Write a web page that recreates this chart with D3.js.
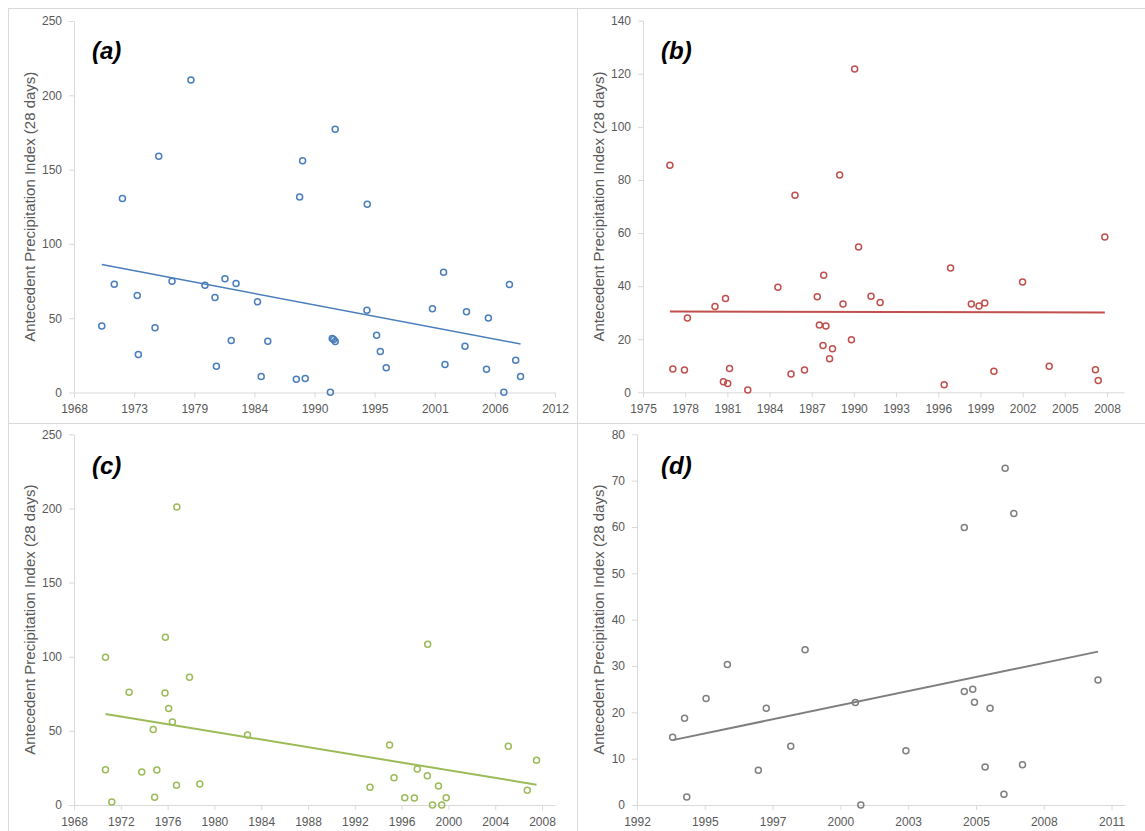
<!DOCTYPE html>
<html>
<head>
<meta charset="utf-8">
<script src="https://cdn.jsdelivr.net/npm/d3@7"></script>
<style>
  body { margin: 0; background: #fff; }
  svg { display: block; font-family: "Liberation Sans", Arial, sans-serif; }
</style>
</head>
<body>
<svg id="chart" width="1145" height="831"></svg>
<script>
/* Data (decimal years, index values) */
const aYears = [1970.98, 1972.12, 1972.86, 1974.21, 1974.31, 1975.83, 1976.17, 1977.38, 1979.1, 1980.38,
  1981.29, 1981.42, 1982.2, 1982.77, 1983.21, 1985.16, 1985.5, 1986.1, 1988.7, 1989.0,
  1989.27, 1989.51, 1991.8, 1991.97, 1992.1, 1992.24, 1992.24, 1995.13, 1995.16, 1996.01,
  1996.35, 1996.89, 2001.1, 2002.11, 2002.24, 2004.06, 2004.2, 2006.02, 2006.19, 2007.6,
  2008.11, 2008.68, 2009.12];
const aValues = [44.8, 72.9, 130.5, 65.2, 25.6, 43.5, 159.0, 74.9, 210.3, 72.2,
  63.9, 17.7, 76.5, 35.0, 73.3, 61.0, 10.8, 34.5, 9.0, 131.6,
  156.0, 9.4, 0.2, 36.3, 35.6, 34.3, 177.1, 55.4, 126.7, 38.6,
  27.6, 16.6, 56.3, 80.9, 18.8, 31.2, 54.3, 15.7, 50.2, 0.2,
  72.6, 21.7, 10.8];
const aTrend = [86.1, 32.7];

const bYears = [1977.21, 1977.42, 1978.25, 1978.46, 1980.43, 1981.03, 1981.18, 1981.34, 1981.47, 1982.77,
  1984.92, 1985.86, 1986.14, 1986.82, 1987.73, 1987.88, 1988.14, 1988.19, 1988.35, 1988.61,
  1988.82, 1989.33, 1989.57, 1990.17, 1990.4, 1990.68, 1991.57, 1992.22, 1996.79, 1997.25,
  1998.73, 1999.28, 1999.69, 2000.34, 2002.39, 2004.29, 2007.59, 2007.79, 2008.26];
const bValues = [85.5, 8.8, 8.4, 28.0, 32.3, 4.0, 35.3, 3.3, 9.0, 0.9,
  39.6, 6.9, 74.2, 8.4, 36.0, 25.4, 17.6, 44.1, 25.0, 12.6,
  16.4, 81.9, 33.3, 19.8, 121.8, 54.7, 36.2, 33.8, 2.8, 46.8,
  33.3, 32.5, 33.6, 7.9, 41.6, 9.8, 8.5, 4.4, 58.5];
const bTrend = [30.4, 30.1];

const cYears = [1970.99, 1970.99, 1971.53, 1973.01, 1974.09, 1975.07, 1975.19, 1975.38, 1976.08, 1976.11,
  1976.39, 1976.71, 1977.06, 1977.09, 1978.17, 1979.05, 1983.13, 1993.6, 1995.27, 1995.65,
  1996.57, 1997.39, 1997.64, 1998.5, 1998.53, 1998.94, 1999.45, 1999.73, 2000.11, 2005.42,
  2007.04, 2007.83];
const cValues = [99.6, 23.8, 2.0, 76.0, 22.3, 51.0, 5.2, 23.6, 75.5, 113.1,
  65.0, 56.0, 13.3, 201.0, 86.1, 14.2, 47.2, 11.9, 40.5, 18.4,
  4.9, 4.7, 24.3, 19.8, 108.4, 0, 12.8, 0, 4.9, 39.6,
  9.9, 30.1];
const cTrend = [61.4, 13.7];

const dYears = [1993.72, 1994.2, 1994.29, 1995.07, 1995.93, 1997.18, 1997.5, 1998.49, 1999.07, 2001.1,
  2001.32, 2003.14, 2005.5, 2005.5, 2005.84, 2005.91, 2006.34, 2006.54, 2007.1, 2007.15,
  2007.5, 2007.85, 2010.9];
const dValues = [14.6, 18.7, 1.7, 23.0, 30.3, 7.5, 20.9, 12.7, 33.5, 22.1,
  0, 11.7, 59.9, 24.5, 25.0, 22.2, 8.2, 20.9, 2.3, 72.7,
  62.9, 8.7, 27.0];
const dTrend = [14.0, 33.1];

/* Tick labels (Excel date axis, equal day steps) */
const aTickLabels = ["1968", "1973", "1979", "1984", "1990", "1995", "2001", "2006", "2012"];
const bTickLabels = ["1975", "1978", "1981", "1984", "1987", "1990", "1993", "1996", "1999", "2002", "2005", "2008"];
const cTickLabels = ["1968", "1972", "1976", "1980", "1984", "1988", "1992", "1996", "2000", "2004", "2008"];
const dTickLabels = ["1992", "1995", "1997", "2000", "2003", "2005", "2008", "2011"];

const yTitle = "Antecedent Precipitation Index (28 days)";

/* Layout of the four panels */
const panels = [
  { tag: "(a)", years: aYears, values: aValues, trend: aTrend, ticks: aTickLabels,
    color: "#4a7ebb", trendWidth: 1.5,
    frame: [8, 8, 569, 415], plot: [74, 21, 555, 392.5],
    xStart: 1968.45, xStep: 5.476, xEnd: 2012.26, yMax: 250, yStep: 50 },
  { tag: "(b)", years: bYears, values: bValues, trend: bTrend, ticks: bTickLabels,
    color: "#c0504d", trendWidth: 2,
    frame: [577, 8, 600, 415], plot: [643, 20.7, 1124, 392.3],
    xStart: 1975.29, xStep: 3.0116, xEnd: 2009.63, yMax: 140, yStep: 20 },
  { tag: "(c)", years: cYears, values: cValues, trend: cTrend, ticks: cTickLabels,
    color: "#9bbb59", trendWidth: 2,
    frame: [8, 423, 569, 420], plot: [74, 434.3, 555, 805],
    xStart: 1968.3, xStep: 4, xEnd: 2009.41, yMax: 250, yStep: 50 },
  { tag: "(d)", years: dYears, values: dValues, trend: dTrend, ticks: dTickLabels,
    color: "#7f7f7f", trendWidth: 2,
    frame: [577, 423, 600, 420], plot: [637, 434.3, 1125, 805],
    xStart: 1992.28, xStep: 2.738, xEnd: 2011.99, yMax: 80, yStep: 10 }
];

const svg = d3.select("#chart");

panels.forEach(drawPanel);

function drawPanel(p) {
  const [fx, fy, fw, fh] = p.frame;
  const [x0, y0, x1, y1] = p.plot;

  // chart border
  svg.append("rect")
    .attr("x", fx + 0.5).attr("y", fy + 0.5)
    .attr("width", fw).attr("height", fh)
    .attr("fill", "none").attr("stroke", "#d9d9d9");

  const x = d3.scaleLinear().domain([p.xStart, p.xEnd]).range([x0, x1]);
  const y = d3.scaleLinear().domain([0, p.yMax]).range([y1, y0]);

  const xTickValues = p.ticks.map((_, i) => p.xStart + i * p.xStep);
  const yTickValues = d3.range(0, p.yMax + p.yStep / 2, p.yStep);

  const xAxis = svg.append("g")
    .attr("transform", `translate(0,${y1})`)
    .call(d3.axisBottom(x)
      .tickValues(xTickValues)
      .tickFormat((d, i) => p.ticks[i])
      .tickSize(5).tickSizeOuter(0).tickPadding(7));

  const yAxis = svg.append("g")
    .attr("transform", `translate(${x0},0)`)
    .call(d3.axisLeft(y)
      .tickValues(yTickValues)
      .tickSize(5).tickSizeOuter(0).tickPadding(7));

  [xAxis, yAxis].forEach(g => {
    g.select(".domain").attr("stroke", "#d9d9d9");
    g.selectAll(".tick line").attr("stroke", "#d9d9d9");
    g.selectAll(".tick text")
      .attr("fill", "#595959")
      .style("font-size", "12px")
      .style("font-family", "'Liberation Sans', Arial, sans-serif");
  });

  // axis title
  svg.append("text")
    .attr("transform", `translate(${fx + 27},${(y0 + y1) / 2}) rotate(-90)`)
    .attr("text-anchor", "middle")
    .attr("fill", "#595959")
    .style("font-size", "15px")
    .text(yTitle);

  // panel tag
  svg.append("text")
    .attr("x", fx + 84)
    .attr("y", fy + 51)
    .attr("fill", "#000")
    .style("font-size", "24px")
    .style("font-weight", "bold")
    .style("font-style", "italic")
    .text(p.tag);

  // linear trend line between first and last observation
  const xExtent = d3.extent(p.years);
  svg.append("line")
    .attr("x1", x(xExtent[0])).attr("y1", y(p.trend[0]))
    .attr("x2", x(xExtent[1])).attr("y2", y(p.trend[1]))
    .attr("stroke", p.color)
    .attr("stroke-width", p.trendWidth);

  // points
  const points = p.years.map((yr, i) => ({ yr, v: p.values[i] }));
  svg.append("g")
    .selectAll("circle")
    .data(points)
    .join("circle")
    .attr("cx", d => x(d.yr))
    .attr("cy", d => y(d.v))
    .attr("r", 3)
    .attr("fill", "none")
    .attr("stroke", p.color)
    .attr("stroke-width", 1.5);
}
</script>
</body>
</html>
